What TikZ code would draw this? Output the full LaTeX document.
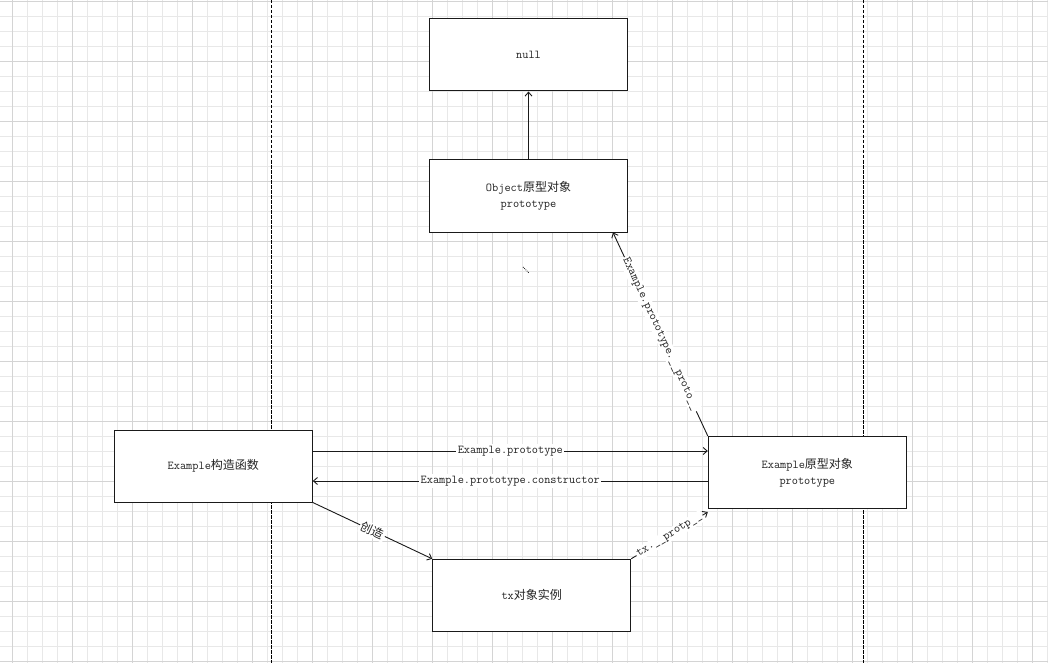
\documentclass[tikz,border=0pt]{standalone}
\usepackage{fontspec}
\usepackage{tikz}
\usetikzlibrary{arrows.meta,positioning,calc}
\newfontfamily\cjk{Noto Sans CJK SC}
\definecolor{GridMinor}{HTML}{E8E8E8}
\definecolor{GridMajor}{HTML}{D4D4D4}
\definecolor{Ink}{HTML}{1A1A1A}
\definecolor{Label}{HTML}{222222}
\newcommand{\zh}[1]{{\cjk #1}}

\begin{document}
\begin{tikzpicture}[x=1pt,y=-1pt,>={Straight Barb[length=4pt,width=7pt]},
    objbox/.style={draw=Ink,line width=1pt,fill=white,minimum width=198pt,
        minimum height=72pt,inner sep=0pt,align=center,text=Label,
        font=\ttfamily\fontsize{12}{16}\selectfont},
    link/.style={draw=Ink,line width=0.9pt,->},
    linklabel/.style={fill=white,inner sep=1.5pt,text=Label,
        font=\ttfamily\fontsize{12}{14}\selectfont}]
        \useasboundingbox (0,0) rectangle (1048,663);
        \fill[white] (0,0) rectangle (1048,663);
        % background grid
        \foreach \i in {0,...,69}
            \draw[GridMinor,line width=0.6pt] (12.3+15*\i,0) -- (12.3+15*\i,663);
        \foreach \i in {0,...,44}
            \draw[GridMinor,line width=0.6pt] (0,1+15*\i) -- (1048,1+15*\i);
        \foreach \i in {0,...,17}
            \draw[GridMajor,line width=0.6pt] (12.3+60*\i,0) -- (12.3+60*\i,663);
        \foreach \i in {0,...,11}
            \draw[GridMajor,line width=0.6pt] (0,1+60*\i) -- (1048,1+60*\i);
        % lanes
        \draw[black,line width=1pt,dash pattern=on 3.5pt off 1.5pt] (271.3,0) -- (271.3,663);
        \draw[black,line width=1pt,dash pattern=on 3.5pt off 1.5pt] (863.3,0) -- (863.3,663);

        \node[objbox] (nullbox) at (528.5,55) {null};
        \node[objbox] (obj) at (528.5,196) {Object\zh{原型对象}\\prototype};
        \node[objbox] (ctor) at (213.3,466) {Example\zh{构造函数}};
        \node[objbox] (proto) at (807.3,472.5) {Example\zh{原型对象}\\prototype};
        \node[objbox] (tx) at (531.7,595.3) {tx\zh{对象实例}};

        \draw[link] (obj) -- (nullbox);
        \draw[link] ([yshift=15pt]ctor.east) -- ([yshift=15pt]ctor.east -| proto.west)
            node[linklabel,midway] {Example.prototype};
        \draw[link] ([yshift=-15pt]ctor.east -| proto.west) -- ([yshift=-15pt]ctor.east)
            node[linklabel,midway] {Example.prototype.constructor};
        \draw[link] (ctor.south east) -- (tx.north west)
            node[linklabel,midway,sloped] {\zh{创造}};
        \draw[link] (tx.north east) -- ([yshift=-3pt]proto.south west)
            node[linklabel,midway,sloped] {tx.\_\_protp\_\_};
        \draw[link] (proto.north west) -- ([xshift=-15pt]obj.south east)
            node[linklabel,midway,sloped] {Example.prototype.\_\_proto\_\_};
        \draw[Ink,densely dotted,line width=0.8pt] (523,267) -- (529,273);
\end{tikzpicture}
\end{document}
